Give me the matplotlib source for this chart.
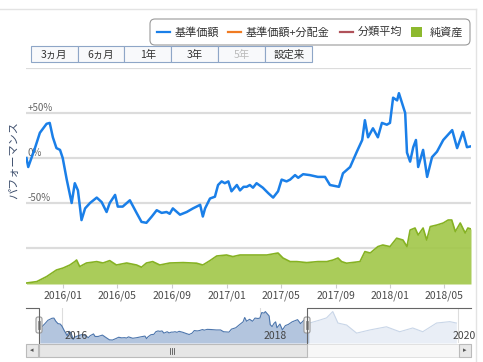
import numpy as np
import pandas as pd
import matplotlib
matplotlib.use("Agg")
import matplotlib.pyplot as plt
import matplotlib.dates as mdates
from matplotlib.patches import Rectangle, FancyBboxPatch

plt.rcParams['font.family'] = ['Noto Sans CJK JP', 'DejaVu Sans']

# performance of the base price (%)
perf_dates = ['2015-10-11', '2015-10-15', '2015-10-30', '2015-11-10', '2015-11-25', '2015-12-02',
              '2015-12-09', '2015-12-17', '2015-12-25', '2015-12-31', '2016-01-09', '2016-01-20',
              '2016-01-27', '2016-02-03', '2016-02-11', '2016-02-19', '2016-03-01', '2016-03-16',
              '2016-03-27', '2016-04-07', '2016-04-14', '2016-04-26', '2016-05-02', '2016-05-13',
              '2016-05-29', '2016-06-13', '2016-06-24', '2016-07-05', '2016-07-17', '2016-07-28',
              '2016-08-08', '2016-08-19', '2016-08-26', '2016-09-02', '2016-09-18', '2016-10-03',
              '2016-10-17', '2016-11-02', '2016-11-08', '2016-11-13', '2016-11-24', '2016-12-05',
              '2016-12-12', '2016-12-20', '2016-12-27', '2017-01-04', '2017-01-11', '2017-01-23',
              '2017-01-30', '2017-02-07', '2017-02-14', '2017-02-21', '2017-02-28', '2017-03-08',
              '2017-03-22', '2017-04-03', '2017-04-14', '2017-04-25', '2017-05-03', '2017-05-14',
              '2017-05-22', '2017-06-02', '2017-06-09', '2017-06-20', '2017-07-05', '2017-07-23',
              '2017-08-08', '2017-08-19', '2017-09-08', '2017-09-17', '2017-10-03',
              '2017-10-18', '2017-10-30', '2017-11-05', '2017-11-12', '2017-11-23', '2017-12-04',
              '2017-12-13', '2017-12-24', '2017-12-31', '2018-01-07', '2018-01-16', '2018-01-20',
              '2018-01-27', '2018-02-03', '2018-02-07', '2018-02-14', '2018-02-21', '2018-02-27',
              '2018-03-04', '2018-03-15', '2018-03-24', '2018-04-04', '2018-04-15', '2018-04-29',
              '2018-05-19', '2018-05-30', '2018-06-12', '2018-06-21', '2018-06-30']
perf_pct = [0, -10, 11, 28, 38, 39,
            23, 11, 9, 0, -24, -50,
            -28, -36, -69, -56, -50, -44,
            -49, -60, -50, -41, -54, -54,
            -47, -61, -71, -72, -65, -58,
            -61, -60, -62, -56, -63, -60,
            -56, -52, -65, -56, -45, -43,
            -30, -26, -28, -26, -37, -30,
            -36, -32, -32, -30, -33, -28,
            -33, -39, -44, -37, -24, -26,
            -24, -19, -22, -18, -19, -21,
            -21, -30, -32, -17, -10,
            7, 20, 42, 23, 33, 23,
            39, 37, 39, 67, 64, 72,
            61, 50, 6, -4, 12, 20,
            -10, 9, -21, 1, 7, 20,
            31, 11, 29, 12, 13]

# net assets (億円)
nav_dates = ['2015-10-11', '2015-11-03', '2015-11-25', '2015-12-17', '2016-01-01', '2016-01-16',
             '2016-01-27', '2016-01-31', '2016-02-07', '2016-02-22', '2016-03-16', '2016-03-30',
             '2016-04-14', '2016-04-29', '2016-05-22', '2016-06-13', '2016-06-24', '2016-07-05',
             '2016-07-19', '2016-08-04', '2016-08-26', '2016-09-25', '2016-10-25', '2016-11-08',
             '2016-11-24', '2016-12-09', '2016-12-31', '2017-01-14', '2017-01-30', '2017-02-21',
             '2017-03-16', '2017-03-31', '2017-04-25', '2017-05-06', '2017-05-22', '2017-06-06',
             '2017-06-28', '2017-07-23', '2017-08-12', '2017-08-26', '2017-09-06', '2017-09-14',
             '2017-09-25', '2017-10-25', '2017-11-05', '2017-11-17', '2017-12-04', '2017-12-15',
             '2017-12-31', '2018-01-15', '2018-01-29', '2018-02-07', '2018-02-14', '2018-02-25',
             '2018-03-04', '2018-03-15', '2018-03-23', '2018-03-31', '2018-04-15', '2018-04-29',
             '2018-05-10', '2018-05-18', '2018-05-26', '2018-06-06', '2018-06-17', '2018-06-23',
             '2018-06-30']
nav_size = [0.5, 1.2, 3.7, 7.0, 8.0, 9.5,
            11.2, 12.0, 8.7, 10.5, 11.2, 10.5,
            11.7, 9.5, 10.5, 9.5, 8.4, 10.5,
            11.2, 9.5, 10.5, 10.7, 10.4, 9.5,
            11.7, 14.0, 14.5, 13.7, 14.5, 14.5,
            14.5, 14.5, 15.5, 13.0, 11.2, 11.2,
            10.7, 11.2, 11.2, 12.0, 13.0, 11.2,
            10.4, 11.2, 16.2, 15.5, 18.7, 19.5,
            18.7, 22.9, 22.0, 18.7, 27.0, 28.0,
            24.5, 28.0, 22.0, 28.7, 29.5, 30.5,
            32.0, 32.0, 26.2, 30.5, 25.5, 28.0,
            27.5]

# navigator series after the visible window
ext_dates = ['2018-08-09', '2018-09-03', '2018-09-26', '2018-10-15', '2018-11-16', '2018-12-23',
             '2019-02-10', '2019-04-12', '2019-05-31', '2019-07-18', '2019-08-24', '2019-10-14',
             '2019-12-02', '2019-12-26']
ext_pct = [29, 40, 72, 14, 4, -37, -21, -5, -30, -11, -30, 14, 21, 14]

legend_labels = ['基準価額', '基準価額+分配金', '分類平均', '純資産']
legend_colors = ['#1a7fe8', '#f07b22', '#b0525a', '#8db92e']
buttons = ['3ヵ月', '6ヵ月', '1年', '3年', '5年', '設定来']
pct_ticks = [50, 0, -50]
pct_labels = ['+50%', '0%', '-50%']
nav_years = ['2016', '2018', '2020']

BLUE = '#1a7fe8'
W, H = 483, 362


def rect(x0, y0, x1, y1):
    return [x0 / W, 1 - y1 / H, (x1 - x0) / W, (y1 - y0) / H]


pd_perf = pd.to_datetime(perf_dates)
pd_nav = pd.to_datetime(nav_dates)
pd_ext = pd.to_datetime(ext_dates)

fig = plt.figure(figsize=(W / 100, H / 100), dpi=100)

# main percent axes (grid + ticks)
ax = fig.add_axes(rect(26, 68, 471, 284))
ax.set_xlim(pd.Timestamp('2015-10-10'), pd.Timestamp('2018-06-30'))
ax.set_ylim(-140, 100)
ax.set_yticks([-100, -50, 0, 50, 100])
ax.yaxis.grid(True, color='#dcdcdc', lw=1.6)
ax.tick_params(axis='y', length=0, labelleft=False)
ax.xaxis.set_major_locator(mdates.MonthLocator(bymonth=[1, 5, 9]))
ax.xaxis.set_major_formatter(mdates.DateFormatter('%Y/%m'))
ax.tick_params(axis='x', length=3, color='#cccccc', labelsize=7.5, labelcolor='#4a4a4a', pad=2)
for s in ax.spines.values():
    s.set_visible(False)
for v, lab in zip(pct_ticks, pct_labels):
    ax.text(0.004, v, lab, transform=ax.get_yaxis_transform(), fontsize=7,
            color='#666666', va='bottom', ha='left')

# net assets area
ax_g = fig.add_axes(rect(26, 68, 471, 284), sharex=ax)
ax_g.patch.set_visible(False)
ax_g.axis('off')
ax_g.set_ylim(0, 108)
ax_g.fill_between(pd_nav, 0, nav_size, color='#a3c84c', alpha=0.92, lw=0)
ax_g.plot(pd_nav, nav_size, color='#86b223', lw=1.2)

# base price line
ax_b = fig.add_axes(rect(26, 68, 471, 284), sharex=ax, sharey=ax)
ax_b.patch.set_visible(False)
ax_b.axis('off')
ax_b.plot(pd_perf, perf_pct, color=BLUE, lw=1.8)

# navigator
axn = fig.add_axes(rect(26, 308, 471, 343))
axn.set_xlim(pd.Timestamp('2015-08-21'), pd.Timestamp('2020-02-18'))
axn.set_ylim(-87, 90)
axn.axis('off')
for yr in nav_years:
    d = pd.Timestamp(yr + '-01-01')
    axn.axvline(d, color='#dddddd', lw=0.8, zorder=0)
    dx = -5 if yr == '2020' else 3
    axn.annotate(yr, (d, 0), xycoords=('data', 'axes fraction'), xytext=(dx * 0.72, 5),
                 textcoords='offset points', fontsize=7.5, color='#444444', ha='left', va='center')
ext_x = [pd_perf[-1]] + list(pd_ext)
ext_y = [perf_pct[-1]] + ext_pct
axn.fill_between(ext_x, -87, ext_y, color='#e9eef6', lw=0)
axn.plot(ext_x, ext_y, color='#c9d6e8', lw=0.8)
axn.fill_between(pd_perf, -87, perf_pct, color='#b3c5de', lw=0)
axn.plot(pd_perf, perf_pct, color='#4d76ad', lw=0.8)

# decorations in pixel coordinates
deco = fig.add_axes([0, 0, 1, 1])
deco.set_xlim(0, W)
deco.set_ylim(H, 0)
deco.axis('off')
deco.patch.set_visible(False)

deco.plot([0, 476], [9, 9], color='#e3e3e3', lw=1)
deco.plot([476, 476], [9, H], color='#e3e3e3', lw=1)

# legend box
deco.add_patch(FancyBboxPatch((150, 19), 320, 26, boxstyle='round,pad=0,rounding_size=5',
                              fc='white', ec='#9a9a9a', lw=0.8))
leg_x = [157, 228, 340, 411]
for i, (lab, col) in enumerate(zip(legend_labels, legend_colors)):
    x = leg_x[i]
    if i < 3:
        deco.plot([x, x + 13], [32, 32], color=col, lw=1.6)
        tx = x + 18
    else:
        deco.add_patch(Rectangle((x, 27), 11, 10, fc=col, ec='none'))
        tx = x + 19
    deco.text(tx, 32, lab, fontsize=8, color='#333333', va='center', ha='left')

# range buttons
bx = [31, 77.7, 124.3, 171.3, 218.3, 265.3, 312.3]
for i, lab in enumerate(buttons):
    deco.add_patch(Rectangle((bx[i], 46), bx[i + 1] - bx[i], 16, fc='#f8f9fb', ec='#8ea6c7', lw=0.8))
    deco.text((bx[i] + bx[i + 1]) / 2, 54.5, lab, fontsize=7.5,
              color='#bbbbbb' if lab == '5年' else '#333333', ha='center', va='center')

# y axis title
deco.text(14, 160, 'パフォーマンス', rotation=90, fontsize=8, color='#3f506e', ha='center', va='center')

# navigator outline and handles
deco.plot([26, 39, 39], [308, 308, 343], color='#666666', lw=0.8)
deco.plot([307, 307, 471], [343, 308, 308], color='#666666', lw=0.8)
for hx in [39, 307]:
    deco.add_patch(FancyBboxPatch((hx - 3, 317), 6, 16, boxstyle='round,pad=0,rounding_size=2',
                                  fc='#f2f2f2', ec='#999999', lw=0.8))
    deco.plot([hx - 0.8, hx - 0.8], [321, 329], color='#888888', lw=0.6)
    deco.plot([hx + 0.8, hx + 0.8], [321, 329], color='#888888', lw=0.6)

# scrollbar
deco.add_patch(Rectangle((26, 344), 445, 13, fc='#f7f7f7', ec='#dddddd', lw=0.6))
deco.add_patch(Rectangle((39, 344), 268, 13, fc='#e6e6e6', ec='#bbbbbb', lw=0.8))
for gx in [170, 172, 174]:
    deco.plot([gx, gx], [347.5, 353.5], color='#555555', lw=0.6)
for x0 in [26, 459]:
    deco.add_patch(Rectangle((x0, 344), 12, 13, fc='#e8e8e8', ec='#bbbbbb', lw=0.8))
deco.text(32, 350.5, '◂', fontsize=5, color='#555555', ha='center', va='center', family='DejaVu Sans')
deco.text(465, 350.5, '▸', fontsize=5, color='#555555', ha='center', va='center', family='DejaVu Sans')

fig.savefig('out.png', dpi=100)
